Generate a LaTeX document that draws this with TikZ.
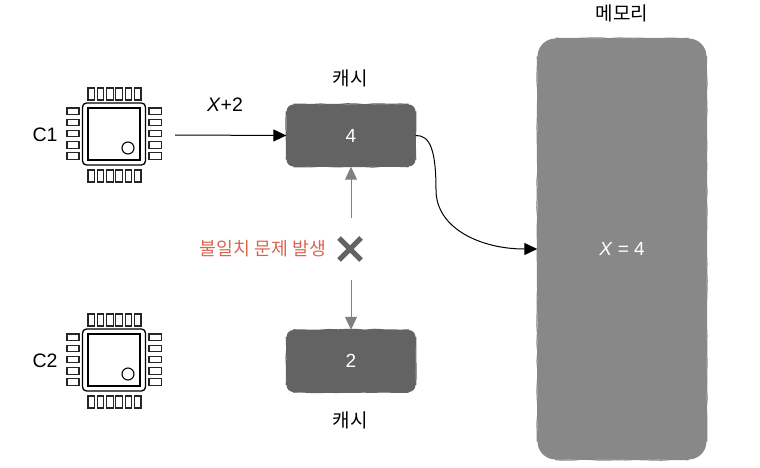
\documentclass[tikz,border=0pt]{standalone}
\usepackage{fontspec}
\setmainfont{Liberation Sans}
\newfontfamily\kor{Noto Sans CJK KR}
\usetikzlibrary{arrows.meta,decorations.pathmorphing}
\definecolor{cachegray}{HTML}{636363}
\definecolor{memgray}{HTML}{888888}
\definecolor{linegray}{HTML}{808080}
\definecolor{errred}{HTML}{D9654F}
\newcommand{\wobbleedges}[3]{%
  \draw[#3,line width=1.2pt,decorate,decoration={random steps,segment length=9pt,amplitude=0.5pt}]
    ([xshift=#2]#1.north west)to([xshift=-#2]#1.north east)
    ([yshift=-#2]#1.north east)to([yshift=#2]#1.south east)
    ([xshift=-#2]#1.south east)to([xshift=#2]#1.south west)
    ([yshift=#2]#1.south west)to([yshift=-#2]#1.north west);}
\tikzset{
  cachebox/.style={fill=cachegray,minimum width=129pt,minimum height=62pt,inner sep=0pt,text=white,rounded corners=7pt,font=\fontsize{19}{21}\selectfont},
  membox/.style={fill=memgray,minimum width=169pt,minimum height=421pt,inner sep=0pt,text=white,rounded corners=18pt,font=\fontsize{19}{21}\selectfont},
  label/.style={font=\kor\fontsize{19}{21}\selectfont},
  problemtext/.style={font=\kor\fontsize{18.3}{21}\selectfont,errred},
  chiplabel/.style={font=\fontsize{19.5}{21}\selectfont},
  pin/.style={line width=1.1pt,draw=black!85},
  blackarrow/.style={-{Triangle[length=13pt,width=12pt]},line width=1pt},
  grayarrow/.style={-{Triangle[length=13pt,width=12pt]},line width=1pt,linegray},
  chip/.pic={
    \draw[line width=1.3pt,rounded corners=4pt](-31.5,-31)rectangle(31.5,31); %외곽
    \draw[line width=1.3pt](-26,-26)rectangle(26,26); %안쪽
    \draw[line width=1.1pt](14,14)circle(6);
    \foreach \i in {0,...,5}{
      \draw[pin](-26+\i*9.3,-46)rectangle(-19.5+\i*9.3,-34); %위
      \draw[pin](-26+\i*9.3,36)rectangle(-19.5+\i*9.3,48); %아래
    }
    \foreach \i in {0,...,4}{
      \draw[pin](-47,-26+\i*11.2)rectangle(-35,-19.5+\i*11.2); %왼쪽
      \draw[pin](35,-26+\i*11.2)rectangle(47.5,-19.5+\i*11.2); %오른쪽
    }
  }
}

\begin{document}
\begin{tikzpicture}[x=1pt,y=-1pt]
\useasboundingbox(0,0)rectangle(760,468);

%칩
\pic at (114,134){chip};
\pic at (114,360){chip};
\node[chiplabel](c1)at(45,135){C1};
\node[chiplabel](c2)at(45,361){C2};

%캐시
\node[cachebox](cacheA)at(351,135.5){4};
\node[cachebox](cacheB)at(351,361){2};
\wobbleedges{cacheA}{7pt}{cachegray}
\wobbleedges{cacheB}{7pt}{cachegray}
\node[label](labelA)at(350,78){캐시};
\node[label](labelB)at(350,420){캐시};

%메모리
\node[membox](mem)at(622,249){\textit{X} = 4};
\wobbleedges{mem}{18pt}{memgray}
\node[label](labelM)at(622,13){메모리};

%화살표
\coordinate(start)at(175,135);
\coordinate(upper)at(351,218);
\coordinate(lower)at(351,280);
\coordinate(bend)at(436,190);
\node[chiplabel](write)at(225,105){\textit{X}+2};
\draw[blackarrow](start)to(cacheA.west);
\draw[blackarrow](cacheA.east)..controls(430,135)and(436,150)..(bend)..controls(436,228)and(480,249)..(mem.west);
\draw[grayarrow](upper)to(cacheA.south);
\draw[grayarrow](lower)to(cacheB.north);

%불일치
\coordinate(cross)at(350,249);
\draw[line width=5pt,cachegray]([shift={(-11,-11)}]cross)to([shift={(11,11)}]cross);
\draw[line width=5pt,cachegray]([shift={(-11,11)}]cross)to([shift={(11,-11)}]cross);
\node[problemtext,anchor=east](problem)at(329.5,249){불일치 문제 발생};
\end{tikzpicture}
\end{document}
